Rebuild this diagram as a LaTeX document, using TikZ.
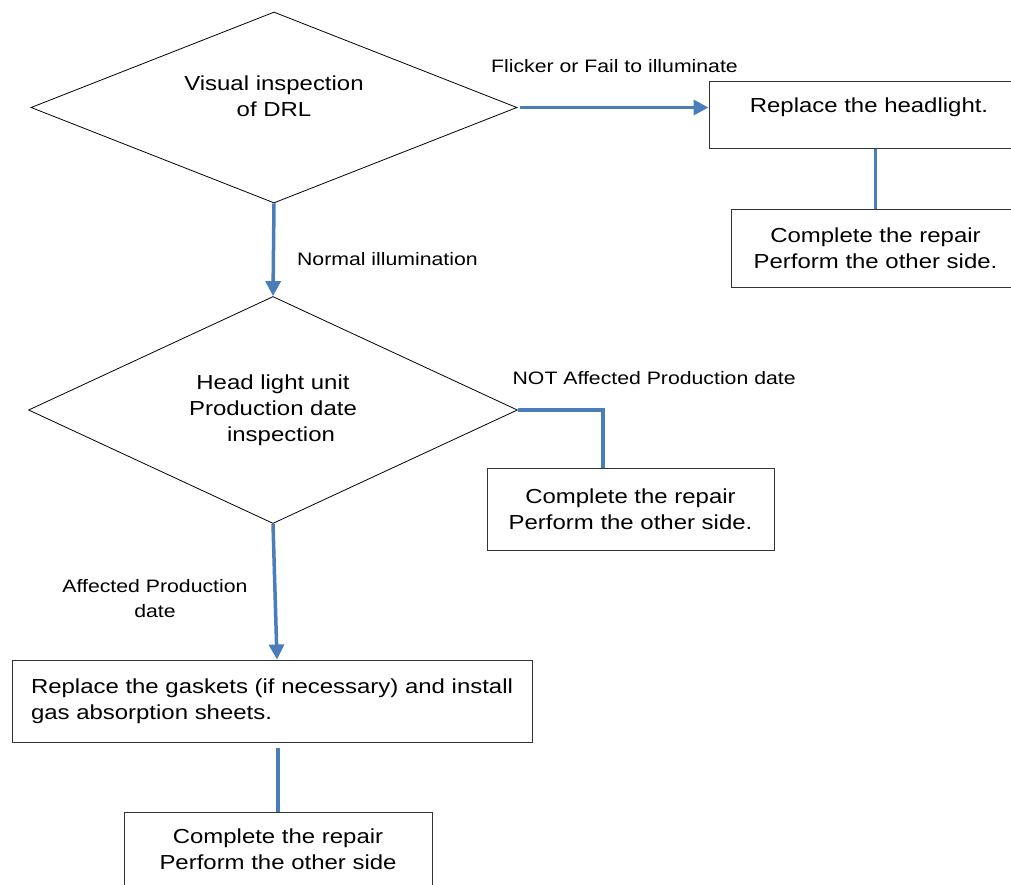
\documentclass[tikz,border=0pt]{standalone}
\usepackage{fontspec}
\setmainfont{Liberation Sans}[FakeStretch=1.18]
\usetikzlibrary{shapes.geometric,arrows.meta,positioning}
\definecolor{linkblue}{RGB}{74,126,187}

\begin{document}
\begin{tikzpicture}[x=1pt, y=-1pt,
  dec/.style={draw, diamond, aspect=2.5, inner sep=0pt, line width=0.8pt, align=center, font=\fontsize{20.3}{26}\selectfont},
  box/.style={draw=black!80, rectangle, line width=1pt, inner sep=0pt, align=center, font=\fontsize{20.3}{26}\selectfont},
  conn/.style={line width=3.5pt, draw=linkblue},
  arr/.style={conn, -{Triangle[length=15pt, width=15pt]}},
  lbl/.style={font=\fontsize{18}{25}\selectfont, inner sep=0pt, align=center},
]
\useasboundingbox (0,0) rectangle (1011,884);

% ─── Decisions (left column) ───
\node[dec, minimum width=486pt, minimum height=191pt, text height=41pt, text depth=24pt] (vis) at (274,107.5) {Visual inspection\\of DRL};
\node[dec, minimum width=489pt, minimum height=227pt] (prod) at (273,410) {Head light unit\\Production date\\\hspace*{16pt}inspection};

% ─── Action boxes ───
\node[box, minimum width=320pt, minimum height=67pt, text height=15pt, text depth=20pt] (replh) at (869,114.5) {Replace the headlight.};
\node[box, minimum width=289pt, minimum height=78pt] (donea) at (875.5,248) {Complete the repair\\Perform the other side.};
\node[box, minimum width=287pt, minimum height=82pt] (doneb) at (630.5,509) {Complete the repair\\Perform the other side.};
\node[box, minimum width=520pt, minimum height=82pt, align=left] (gask) at (272,701) {Replace the gaskets (if necessary) and install\\gas absorption sheets.};
\node[box, minimum width=308pt, minimum height=74pt] (donec) at (278,849) {Complete the repair\\Perform the other side};

% ─── Helper points ───
\coordinate (kink) at (603,410);
\coordinate (gbot) at (donec.north |- gask.south);

% ─── Connectors ───
\draw[arr] ([xshift=3pt]vis.east) -- node[lbl, above=33pt] {Flicker or Fail to illuminate} (vis.east -| replh.west);
\draw[conn] (replh.south -| donea.north) -- (donea.north);
\draw[arr] (vis.south) -- node[lbl, pos=0.6, right=22pt] {Normal illumination} (prod.north);
\draw[conn] (prod.east) -- node[lbl, pos=0, anchor=south west, xshift=-7pt, yshift=24pt] {NOT Affected Production date} (kink) -- (kink |- doneb.north);
\draw[arr] (prod.south) -- node[lbl, pos=0.55, left=26pt] {Affected Production\\date} ([xshift=5pt]gask.north);
\draw[conn] ([yshift=-5pt]gbot) -- (donec.north);

\end{tikzpicture}
\end{document}
